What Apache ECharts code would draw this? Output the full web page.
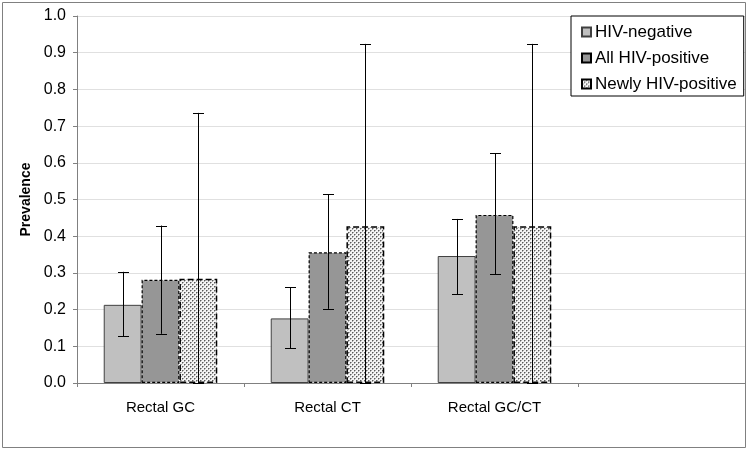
<!DOCTYPE html>
<html>
<head>
<meta charset="utf-8">
<script src="https://cdn.jsdelivr.net/npm/echarts@6/dist/echarts.min.js"></script>
<style>
html,body{margin:0;padding:0;background:#fff;}
#c{width:750px;height:451px;}
</style>
</head>
<body>
<div id="c"></div>
<script>
var categories = ['Rectal GC', 'Rectal CT', 'Rectal GC/CT', ''];
var seriesNames = ['HIV-negative', 'All HIV-positive', 'Newly HIV-positive'];
var hivNeg = [0.213, 0.176, 0.346];
var allPos = [0.281, 0.356, 0.458];
var newPos = [0.284, 0.427, 0.427];
var hivNegLow = [0.127, 0.095, 0.242];
var hivNegHigh = [0.303, 0.261, 0.447];
var allPosLow = [0.134, 0.202, 0.297];
var allPosHigh = [0.429, 0.514, 0.626];
var newPosLow = [0, 0, 0];
var newPosHigh = [0.736, 0.924, 0.924];
var yTicks = [0, 0.1, 0.2, 0.3, 0.4, 0.5, 0.6, 0.7, 0.8, 0.9, 1.0];

var GAP = 0.32;

function makePattern() {
  var cv = document.createElement('canvas');
  cv.width = 4; cv.height = 4;
  var ctx = cv.getContext('2d');
  ctx.fillStyle = '#f4f4f4';
  ctx.fillRect(0, 0, 4, 4);
  ctx.fillStyle = '#5a5a5a';
  ctx.fillRect(0, 0, 1, 1);
  ctx.fillRect(2, 2, 1, 1);
  ctx.fillStyle = '#a8a8a8';
  ctx.fillRect(1, 0, 1, 1);
  ctx.fillRect(0, 1, 1, 1);
  ctx.fillRect(3, 2, 1, 1);
  ctx.fillRect(2, 3, 1, 1);
  return cv;
}
var pattern = {image: makePattern(), repeat: 'repeat'};

function errData(lo, hi) {
  return lo.map(function (v, i) { return [i, v, hi[i]]; });
}

function errRender(k) {
  return function (params, api) {
    var ci = api.value(0);
    var pLo = api.coord([ci, api.value(1)]);
    var pHi = api.coord([ci, api.value(2)]);
    var band = api.size([1, 0])[0];
    var bw = band * (1 - GAP) / 3;
    var x = Math.round(pLo[0] + (k - 1) * bw) + 0.5;
    var cap = 5.5;
    var st = {stroke: '#000', lineWidth: 1};
    return {
      type: 'group',
      children: [
        {type: 'line', shape: {x1: x, y1: pLo[1], x2: x, y2: pHi[1]}, style: st},
        {type: 'line', shape: {x1: x - cap, y1: Math.round(pHi[1]) + 0.5, x2: x + cap, y2: Math.round(pHi[1]) + 0.5}, style: st},
        {type: 'line', shape: {x1: x - cap, y1: Math.round(pLo[1]) + 0.5, x2: x + cap, y2: Math.round(pLo[1]) + 0.5}, style: st}
      ]
    };
  };
}

var chart = echarts.init(document.getElementById('c'), null, {renderer: 'canvas'});
var option = {
  animation: false,
  textStyle: {fontFamily: 'Liberation Sans, Arial, sans-serif'},
  graphic: [{
    type: 'rect',
    shape: {x: 2.5, y: 2.5, width: 743, height: 445},
    style: {fill: 'none', stroke: '#808080', lineWidth: 1},
    silent: true,
    z: -10
  }],
  grid: {left: 77, right: 5, top: 16, bottom: 68},
  legend: {
    orient: 'vertical',
    left: 571,
    top: 16,
    padding: [7, 7, 3, 10],
    itemGap: 8,
    itemWidth: 9,
    itemHeight: 9,
    borderColor: '#000',
    borderWidth: 1,
    backgroundColor: '#fff',
    textStyle: {fontSize: 17, color: '#000', lineHeight: 18, padding: [0, 0, 0, -1]},
    data: seriesNames.map(function (n) { return {name: n, icon: 'rect'}; })
  },
  xAxis: {
    type: 'category',
    data: categories,
    boundaryGap: true,
    axisLine: {lineStyle: {color: '#808080', width: 1}},
    axisTick: {show: true, alignWithLabel: false, length: 4, lineStyle: {color: '#808080'}},
    axisLabel: {color: '#000', fontSize: 15, margin: 17}
  },
  yAxis: {
    type: 'value',
    min: 0, max: 1, interval: 0.1,
    name: 'Prevalence',
    nameLocation: 'middle',
    nameGap: 40,
    nameRotate: 90,
    nameTextStyle: {fontSize: 14, fontWeight: 'bold', color: '#000'},
    axisLine: {show: true, lineStyle: {color: '#808080', width: 1}},
    axisTick: {show: true, length: 4, lineStyle: {color: '#808080'}},
    axisLabel: {color: '#000', fontSize: 16, margin: 11, formatter: function (v) { return v.toFixed(1); }},
    splitLine: {show: true, lineStyle: {color: '#e0e0e0', width: 1}}
  },
  series: [
    {
      name: seriesNames[0], type: 'bar', data: hivNeg,
      barGap: '0%', barCategoryGap: (GAP * 100) + '%',
      itemStyle: {color: '#c0c0c0', borderColor: '#404040', borderWidth: 1}
    },
    {
      name: seriesNames[1], type: 'bar', data: allPos,
      barGap: '0%', barCategoryGap: (GAP * 100) + '%',
      itemStyle: {color: '#969696', borderColor: '#000', borderWidth: 1.2, borderType: [3, 2]}
    },
    {
      name: seriesNames[2], type: 'bar', data: newPos,
      barGap: '0%', barCategoryGap: (GAP * 100) + '%',
      itemStyle: {color: pattern, borderColor: '#000', borderWidth: 1.5, borderType: [6, 3]}
    },
    {type: 'custom', renderItem: errRender(0), data: errData(hivNegLow, hivNegHigh), encode: {x: 0, y: [1, 2]}, z: 5, silent: true},
    {type: 'custom', renderItem: errRender(1), data: errData(allPosLow, allPosHigh), encode: {x: 0, y: [1, 2]}, z: 5, silent: true},
    {type: 'custom', renderItem: errRender(2), data: errData(newPosLow, newPosHigh), encode: {x: 0, y: [1, 2]}, z: 5, silent: true}
  ]
};
chart.setOption(option);
</script>
</body>
</html>
